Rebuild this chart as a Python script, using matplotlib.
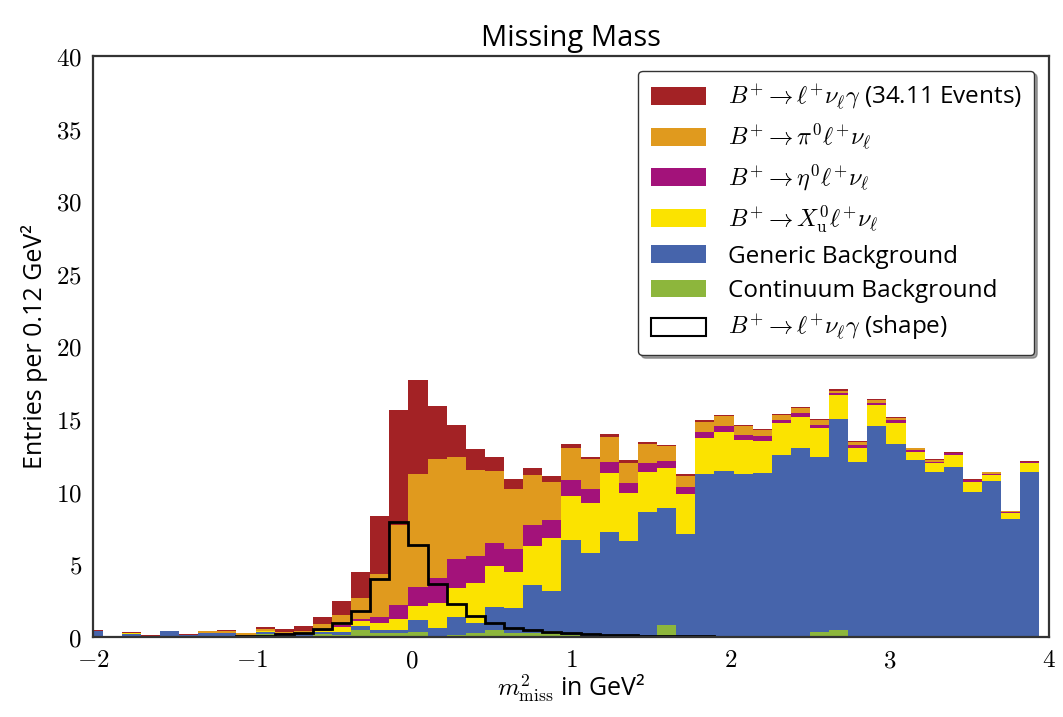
import numpy as np
import matplotlib
matplotlib.use("Agg")
import matplotlib.pyplot as plt
from matplotlib.patches import Patch
from matplotlib.ticker import FuncFormatter

# ---------------- data ----------------
bin_start = -2.06
bin_width = 0.12
n_bins = 50

continuum = [0.10, 0, 0.03, 0, 0.02, 0.05, 0.07, 0.07, 0.03, 0.18,
             0.05, 0.05, 0.18, 0.12, 0.46, 0.30, 0.25, 0.36, 0.05, 0.12,
             0.30, 0.48, 0.30, 0.30, 0.44, 0.15, 0.10, 0.10, 0.10, 0.10,
             0.80, 0.05, 0.10, 0.10, 0.05, 0.05, 0.05, 0.05, 0.37, 0.48,
             0.05, 0.10, 0.02, 0.05, 0.05, 0.05, 0.05, 0.02, 0.05, 0.02]
generic = [0.33, 0, 0.20, 0, 0.36, 0.07, 0.18, 0.18, 0.07, 0.16,
           0.15, 0.13, 0.19, 0.25, 0.27, 0.18, 0.21, 0.82, 0.55, 1.28,
           0.69, 1.61, 1.72, 3.28, 2.73, 6.55, 5.70, 7.11, 6.51, 8.48,
           8.10, 7.02, 11.10, 11.33, 11.17, 11.26, 12.48, 12.94, 12.05, 14.51,
           12.02, 14.43, 13.24, 12.14, 11.29, 11.68, 9.96, 10.74, 8.07, 11.34]
xu = [0, 0, 0.07, 0, 0, 0, 0.05, 0.05, 0, 0.07,
      0.02, 0.04, 0.03, 0.34, 0.37, 0.46, 0.76, 0.97, 1.72, 1.98,
      2.70, 2.80, 2.43, 2.69, 3.62, 3.01, 3.45, 4.06, 3.33, 2.80,
      2.71, 2.78, 2.52, 2.71, 2.34, 2.18, 2.18, 2.18, 1.95, 1.67,
      0.96, 1.44, 1.50, 0.57, 0.62, 0.80, 0.66, 0.37, 0.39, 0.64]
eta = [0, 0, 0, 0, 0, 0, 0, 0, 0, 0.02,
       0.02, 0.04, 0.08, 0.12, 0.16, 0.46, 0.98, 1.30, 1.72, 1.97,
       1.91, 1.60, 1.58, 1.44, 1.26, 1.10, 0.94, 0.80, 0.69, 0.62,
       0.53, 0.45, 0.42, 0.39, 0.35, 0.35, 0.23, 0.27, 0.23, 0.16,
       0.19, 0.16, 0.18, 0.11, 0.09, 0.11, 0.14, 0.09, 0.12, 0.02]
pi0 = [0, 0, 0, 0.10, 0.02, 0.03, 0.10, 0.10, 0.18, 0.10,
       0.10, 0.18, 0.42, 0.71, 1.40, 2.91, 5.49, 7.80, 8.19, 7.01,
       5.89, 4.95, 4.15, 3.44, 2.64, 2.18, 2.04, 1.68, 1.37, 1.31,
       1.01, 0.78, 0.69, 0.69, 0.62, 0.41, 0.32, 0.35, 0.34, 0.14,
       0.23, 0.19, 0.16, 0.12, 0.15, 0.06, 0.02, 0.12, 0.02, 0.05]
signal = [0.05, 0, 0.02, 0.04, 0.02, 0.08, 0.02, 0.08, 0.02, 0.14,
          0.19, 0.32, 0.50, 0.96, 1.84, 4.04, 7.96, 6.42, 3.67, 2.21,
          1.42, 0.92, 0.69, 0.50, 0.39, 0.30, 0.19, 0.20, 0.19, 0.09,
          0.07, 0.12, 0.11, 0.06, 0.07, 0.07, 0.07, 0.07, 0.04, 0.09,
          0.04, 0.04, 0.03, 0.02, 0.03, 0.04, 0.03, 0.02, 0.05, 0.05]
shape = [0, 0, 0, 0, 0, 0, 0, 0.02, 0.04, 0.08,
         0.18, 0.25, 0.53, 0.95, 1.82, 4.00, 7.90, 6.35, 3.65, 2.27,
         1.47, 0.94, 0.64, 0.45, 0.33, 0.25, 0.20, 0.16, 0.12, 0.10,
         0.08, 0.06, 0.04, 0.03, 0.02, 0.01, 0, 0, 0, 0,
         0, 0, 0, 0, 0, 0, 0, 0, 0, 0]

labels = [r"$B^{+} \rightarrow \ell^{+} \nu_{\ell} \gamma$ (34.11 Events)",
          r"$B^{+} \rightarrow \pi^{0} \ell^{+} \nu_{\ell}$",
          r"$B^{+} \rightarrow \eta^{0} \ell^{+} \nu_{\ell}$",
          r"$B^{+} \rightarrow X_{\mathrm{u}}^{0} \ell^{+} \nu_{\ell}$",
          "Generic Background",
          "Continuum Background",
          r"$B^{+} \rightarrow \ell^{+} \nu_{\ell} \gamma$ (shape)"]
colors = ["#A32225", "#E09A1E", "#A3127A", "#FBE300", "#4664AB", "#8DB63C"]

x_ticks = [-2, -1, 0, 1, 2, 3, 4]
y_ticks = [0, 5, 10, 15, 20, 25, 30, 35, 40]

# ---------------- plot ----------------
plt.rcParams["font.family"] = ["Open Sans", "DejaVu Sans"]
plt.rcParams["mathtext.fontset"] = "cm"

fig = plt.figure(figsize=(10.63, 7.17), dpi=100)
ax = fig.add_axes([0.0875, 0.1116, 0.8993, 0.8103])

edges = bin_start + bin_width * np.arange(n_bins + 1)
centers = 0.5 * (edges[:-1] + edges[1:])

stack = [continuum, generic, xu, eta, pi0, signal]
stack_colors = colors[::-1]
ax.hist([centers] * len(stack), bins=edges, weights=stack, stacked=True,
        histtype="bar", rwidth=1.0, color=stack_colors, linewidth=0)
ax.hist(centers, bins=edges, weights=shape, histtype="step",
        color="black", linewidth=2.0)

ax.set_xlim(-2, 4)
ax.set_ylim(0, 40)
ax.set_xticks(x_ticks)
ax.set_yticks(y_ticks)
fmt = FuncFormatter(lambda v, p: r"$%d$" % v)
ax.xaxis.set_major_formatter(fmt)
ax.yaxis.set_major_formatter(fmt)
ax.tick_params(length=0, labelsize=18, pad=8)
for s in ax.spines.values():
    s.set_color("#333333")
    s.set_linewidth(1.6)

ax.set_title("Missing Mass", fontsize=21, pad=7)
ax.set_ylabel("Entries per 0.12 GeV²", fontsize=18, labelpad=6)
ax.set_xlabel(r"$m^{2}_{\mathrm{miss}}$ in GeV²", fontsize=18, labelpad=0)

handles = [Patch(facecolor=c, edgecolor="none") for c in colors]
handles.append(Patch(facecolor="white", edgecolor="black", linewidth=1.5))
leg = ax.legend(handles, labels, loc="upper right", fontsize=17.5,
                frameon=True, shadow=True, fancybox=True,
                handlelength=2.3, handleheight=0.75, handletextpad=0.9,
                labelspacing=0.42, borderpad=0.5, borderaxespad=0.6)
leg.get_frame().set_edgecolor("#333333")
leg.get_frame().set_linewidth(1.0)
leg.get_frame().set_alpha(1.0)

fig.savefig("out.png", dpi=100)
